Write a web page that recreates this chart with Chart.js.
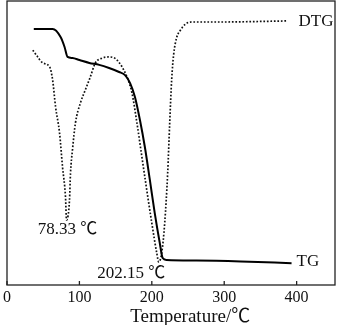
<!DOCTYPE html>
<html>
<head>
<meta charset="utf-8">
<script src="https://cdn.jsdelivr.net/npm/chart.js@4"></script>
<style>
    html, body { margin: 0; padding: 0; background: #fff; }
    #wrap { width: 337px; height: 325px; }
</style>
</head>
<body>
<div id="wrap"><canvas id="chartTG"></canvas></div>
<script>
// temperature in degC, signal in arbitrary units (no y axis is shown)
const tgTemp = [37, 63, 74, 79.5, 83.6, 90.4, 100, 113.7, 127.4, 141, 154.8, 163, 170, 176.7, 183.6, 190.4, 197.3, 204, 211, 215, 220.5, 261.6, 323, 393];
const tgValue = [90.1, 90.1, 87.3, 83.8, 80.3, 79.9, 79.2, 78.2, 77.5, 76.4, 75.0, 73.9, 71.1, 66.2, 58.1, 48.6, 37.0, 25.4, 14.8, 9.5, 8.8, 8.6, 8.3, 7.7];

const dtgTemp = [35.6, 42.5, 49.3, 58.9, 63, 67.1, 72.6, 76.7, 80.8, 82.2, 86.3, 87.7, 90.4, 94.5, 101.4, 108.2, 115, 122, 131.5, 141, 152, 165.8, 172.6, 179.5, 186.3, 193, 200, 206.8, 209.6, 213.7, 217.8, 221.9, 224.7, 227.4, 230.1, 234.2, 239.7, 246.6, 254.8, 296, 350.7, 387.7];
const dtgValue = [82.7, 80.3, 78.2, 76.8, 72.2, 62.7, 53.5, 41.5, 31.0, 22.9, 29.9, 39.4, 47.5, 57.0, 64.1, 68.7, 73.2, 78.2, 79.9, 80.3, 79.2, 73.2, 67.6, 57.0, 45.1, 33.5, 21.8, 11.3, 8.1, 11.3, 21.8, 39.4, 57.0, 72.2, 81.0, 87.0, 89.8, 91.9, 92.6, 92.6, 92.8, 93.0];

const xTicks = [0, 100, 200, 300, 400];

const serif = '"Liberation Serif", "Times New Roman", "Noto Sans CJK SC", serif';

document.addEventListener('DOMContentLoaded', function () {
    const toPoints = (xs, ys) => xs.map((t, i) => ({ x: t, y: ys[i] }));

    const notes = [
        { text: 'DTG', x: 402.7, y: 92.6, size: 17 },
        { text: 'TG', x: 400, y: 8.1, size: 17 },
        { text: '78.33 ℃', x: 42.5, y: 19.7, size: 17 },
        { text: '202.15 ℃', x: 124.7, y: 4.0, size: 17 }
    ];

    const overlay = {
        id: 'overlay',
        afterDraw(chart) {
            const ctx = chart.ctx;
            const a = chart.chartArea;
            const xs = chart.scales.x;
            const ys = chart.scales.y;
            ctx.save();
            ctx.strokeStyle = '#222';
            ctx.lineWidth = 1.3;
            ctx.strokeRect(a.left, a.top, a.right - a.left, a.bottom - a.top);

            xTicks.forEach(v => {
                const px = xs.getPixelForValue(v);
                ctx.beginPath();
                ctx.moveTo(px, a.bottom);
                ctx.lineTo(px, a.bottom - 4);
                ctx.stroke();
            });

            ctx.fillStyle = '#111';
            ctx.textBaseline = 'middle';
            ctx.textAlign = 'left';
            notes.forEach(n => {
                ctx.font = n.size + 'px ' + serif;
                ctx.fillText(n.text, xs.getPixelForValue(n.x), ys.getPixelForValue(n.y));
            });

            // axis title, sits right of centre in the original
            ctx.font = '19px ' + serif;
            ctx.textAlign = 'center';
            ctx.fillText('Temperature/℃', xs.getPixelForValue(253), a.bottom + 32);
            ctx.restore();
        }
    };

    new Chart(document.getElementById('chartTG'), {
        type: 'line',
        data: {
            datasets: [{
                label: 'TG',
                data: toPoints(tgTemp, tgValue),
                borderColor: '#000',
                borderWidth: 2,
                pointRadius: 0,
                cubicInterpolationMode: 'monotone'
            }, {
                label: 'DTG',
                data: toPoints(dtgTemp, dtgValue),
                borderColor: '#111',
                borderWidth: 1.7,
                borderDash: [1.7, 1.8],
                pointRadius: 0,
                cubicInterpolationMode: 'monotone'
            }]
        },
        plugins: [overlay],
        options: {
            responsive: true,
            maintainAspectRatio: false,
            animation: false,
            layout: {
                padding: { left: 4, right: 2, top: 1, bottom: 0 }
            },
            plugins: {
                legend: { display: false },
                tooltip: { enabled: false }
            },
            scales: {
                x: {
                    type: 'linear',
                    min: 0,
                    max: 453,
                    afterFit: (scale) => { scale.height = 40; },
                    grid: { display: false, drawTicks: false },
                    border: { display: false },
                    ticks: {
                        stepSize: 100,
                        includeBounds: false,
                        padding: 3,
                        color: '#111',
                        font: { family: serif, size: 16 }
                    }
                },
                y: {
                    display: false,
                    min: 0,
                    max: 100
                }
            }
        }
    });
});
</script>
</body>
</html>
